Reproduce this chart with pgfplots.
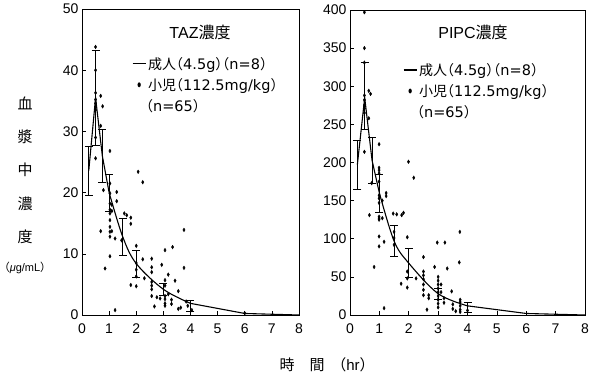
\documentclass[border=0pt]{standalone}
\usepackage{fontspec}
\setmainfont{Liberation Sans}
\newfontfamily\jp{Noto Sans CJK JP}
\newfontfamily\lat{DejaVu Sans}
\usepackage{pgfplots}
\pgfplotsset{compat=1.18}
\newcommand\LP{\kern-0.5em{\jp （}}
\newcommand\RP{{\jp ）}\kern-0.5em}
\newcommand\Lt[1]{{\lat\fontsize{14.5}{20}\selectfont #1}}
\pgfplotsset{
 myaxis/.style={
  scale only axis, axis line style={line width=0.8pt},
  xmin=0, xmax=8, xtick={0,...,8}, ymin=0,
  tick pos=left, tick align=inside, major tick length=4pt,
  tick style={line width=0.6pt, black},
  tick label style={font=\fontsize{14}{16}\selectfont},
  xticklabel style={yshift=-5pt},
  /pgf/number format/assume math mode=true,
  legend cell align=left,
  legend style={draw=none, fill=none, font=\jp\fontsize{14}{20}\selectfont, inner sep=0pt,
    /tikz/row sep=3.5pt,
    /tikz/every even column/.append style={column sep=3pt}},
 },
 meanline/.style={black, line width=1.1pt, mark=none,
   legend image code/.code={\draw[black, line width=1.1pt] (0pt,0pt) -- (13pt,0pt);}},
 errs/.style={draw=none, mark=none, forget plot,
   error bars/.cd, y dir=both, y explicit,
   error bar style={draw=black, solid, line width=0.7pt},
   error mark options={draw=black, solid, rotate=90, mark size=4pt, line width=0.7pt}},
 dots/.style={only marks, mark=*, mark size=1.4pt, black,
   mark options={xscale=0.8, yscale=1.3, fill=black},
   legend image code/.code={\draw[mark repeat=2, mark phase=2, only marks, mark=*, mark size=1.7pt, mark options={xscale=0.8, yscale=1.3, fill=black, draw=black}] plot coordinates {(0pt,0pt) (6.5pt,0pt) (13pt,0pt)};}},
}
\begin{document}
\begin{tikzpicture}
\path[use as bounding box] (0pt,0pt) rectangle (594pt,378pt);
% ---------------- TAZ ----------------
\begin{axis}[myaxis, at={(82pt,63pt)}, anchor=south west, width=217pt, height=306pt,
  ymax=50, ytick={0,10,...,50},
  legend style={at={(axis cs:1.84,42.5)}, anchor=north west}]
\addplot[meanline] coordinates {(0.25,23.6) (0.5,35.5) (0.75,26.0) (1.0,20.0)};
\addlegendentry{成人\LP\Lt{4.5g}\RP\LP\Lt{n=8}\RP}
\addplot[meanline, smooth, tension=0.55, forget plot] coordinates {(1.0,20.0) (1.5,12.8) (2.0,8.4) (3.0,4.2) (4.0,1.9)};
\addplot[meanline, forget plot] coordinates {(4.0,1.9) (6.0,0.25) (8.0,0)};
\addplot[errs] coordinates {
 (0.25,23.6) +- (0,4.0)
 (0.5,35.5) +- (0,7.8)
 (0.75,26.0) +- (0,4.3)
 (1.0,20.0) +- (0,3.0)
 (1.5,12.8) +- (0,3.0)
 (2.0,8.4) +- (0,2.2)
 (3.0,4.2) +- (0,1.0)
 (4.0,1.5) +- (0,0.9)
};
\addplot[dots] coordinates {
 (0.5,43.8) (0.5,40) (0.5,36.3) (0.5,35.2) (0.5,34.6) (0.5,34.0) (0.5,33.5) (0.5,29.0) (0.5,25.6)
 (0.69,35.8) (0.69,30.9) (0.69,13.7) (0.76,34.1) (0.79,20.4) (0.85,7.6)
 (1.03,26.8) (1.03,21.5) (1.03,19.9) (1.03,18.2) (1.03,17.2) (1.03,16.6) (1.03,15.5) (1.03,14.4) (1.03,13.6) (1.03,12.8) (1.03,9.6)
 (1.1,18.0) (1.1,17.0) (1.1,13.7) (1.22,12.5) (1.22,0.8) (1.28,20.1) (1.28,18.6)
 (1.46,12.2) (1.56,16.6) (1.65,16.3) (1.8,15.9) (1.8,14.9) (1.8,4.9)
 (2.0,11.3) (2.0,8.5) (2.0,7.4) (2.0,6.3) (2.0,4.7) (2.07,23.4) (2.24,21.7) (2.24,9.1) (2.3,6.0)
 (2.57,9.2) (2.57,7.8) (2.57,7.0) (2.57,5.4) (2.57,4.8) (2.57,4.2) (2.57,3.1)
 (2.67,1.4) (2.76,2.9) (2.88,2.7) (2.94,8.2)
 (3.06,10.6) (3.06,5.7) (3.06,4.8) (3.06,3.1) (3.06,2.6) (3.06,1.9) (3.06,1.5)
 (3.18,6.6) (3.18,3.4) (3.34,11.1) (3.3,2.5) (3.3,1.8) (3.43,5.6) (3.55,3.9) (3.55,1.0) (3.64,1.2)
 (3.76,7.7) (3.76,13.9) (3.84,2.2) (3.9,1.5) (4.05,0.8) (6.0,0.3)
};
\addlegendentry{小児\LP\Lt{112.5mg/kg}\RP}
\addlegendimage{empty legend}
\addlegendentry{\kern-0.15em\LP\Lt{n=65}\RP}
\end{axis}
% ---------------- PIPC ----------------
\begin{axis}[myaxis, at={(350pt,63pt)}, anchor=south west, width=235pt, height=305pt,
  ymax=400, ytick={0,50,...,400},
  legend style={at={(axis cs:1.8,333)}, anchor=north west}]
\addplot[meanline] coordinates {(0.25,197) (0.5,285) (0.75,203) (1.0,160)};
\addlegendentry{成人\LP\Lt{4.5g}\RP\LP\Lt{n=8}\RP}
\addplot[meanline, smooth, tension=0.55, forget plot] coordinates {(1.0,160) (1.5,97) (2.0,68) (3.0,28) (4.0,12)};
\addplot[meanline, forget plot] coordinates {(4.0,12) (6.0,2) (8.0,0)};
\addplot[errs] coordinates {
 (0.25,197) +- (0,32)
 (0.5,287) +- (0,44)
 (0.75,203) +- (0,30)
 (1.0,160) +- (0,25)
 (1.5,97) +- (0,20)
 (2.0,68) +- (0,19)
 (3.0,28) +- (0,7)
 (4.0,10) +- (0,6)
};
\addplot[dots] coordinates {
 (0.49,397) (0.49,350) (0.49,331) (0.49,288) (0.49,282) (0.49,275) (0.49,271) (0.49,265) (0.49,214)
 (0.64,294) (0.7,290) (0.64,258) (0.66,131) (0.74,173) (0.82,63)
 (0.99,224) (0.99,193) (0.99,190) (0.99,186) (0.99,175) (0.99,157) (0.99,153) (0.99,147) (0.99,129) (0.99,127) (0.99,125) (0.99,103) (0.99,90)
 (1.1,150) (1.1,127) (1.16,96) (1.16,9) (1.23,160) (1.23,156)
 (1.47,133) (1.59,132) (1.5,109) (1.5,101) (1.5,92) (1.76,131) (1.82,134) (1.74,41)
 (1.95,102) (1.95,57) (1.95,48) (1.95,36) (1.99,201) (2.17,180) (2.25,48)
 (2.5,76) (2.5,57) (2.5,52) (2.5,47) (2.5,40) (2.5,33) (2.5,26) (2.62,7) (2.68,26) (2.68,22)
 (2.88,63) (2.97,95)
 (3.0,50) (3.0,45) (3.0,40) (3.0,35) (3.0,30) (3.0,25) (3.0,20) (3.0,15) (3.0,10)
 (3.1,40) (3.1,30) (3.2,22) (3.2,16) (3.23,95) (3.31,61) (3.46,31)
 (3.5,14) (3.5,8) (3.6,5) (3.72,69) (3.74,109)
 (3.75,20) (3.75,17) (3.75,12) (3.75,7) (3.75,4) (4.0,6)
};
\addlegendentry{小児\LP\Lt{112.5mg/kg}\RP}
\addlegendimage{empty legend}
\addlegendentry{\kern-0.15em\LP\Lt{n=65}\RP}
\end{axis}
% ---------------- texts ----------------
\node[font=\fontsize{16}{18}\selectfont] at (200pt,346pt) {TAZ{\jp 濃度}};
\node[font=\fontsize{16}{18}\selectfont] at (473pt,346pt) {PIPC{\jp 濃度}};
\begin{scope}[every node/.style={font=\jp\fontsize{15}{17}\selectfont}]
\node at (25pt,275pt) {血};
\node at (25pt,241pt) {漿};
\node at (25pt,208pt) {中};
\node at (25pt,174pt) {濃};
\node at (25pt,141pt) {度};
\node at (287pt,13pt) {時};
\node at (317pt,13pt) {間};
\end{scope}
\node[font=\fontsize{11}{13}\selectfont] at (25pt,110pt) {{\jp （}{\itshape μ}g/mL{\jp ）}};
\node[font=\fontsize{15}{17}\selectfont] at (353pt,13pt) {{\jp （}hr{\jp ）}};
\end{tikzpicture}
\end{document}
